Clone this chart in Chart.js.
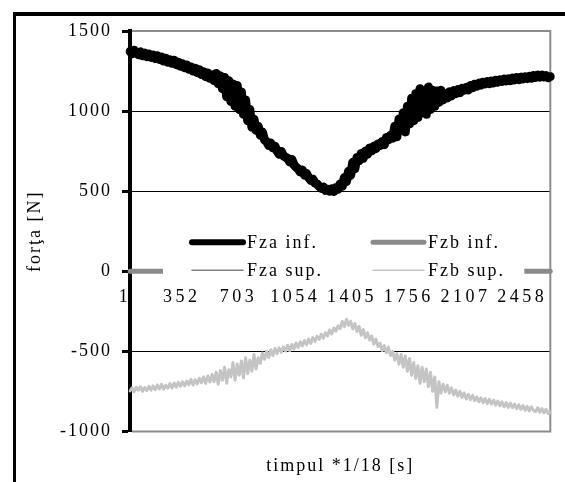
<!DOCTYPE html>
<html>
<head>
<meta charset="utf-8">
<script src="https://cdn.jsdelivr.net/npm/chart.js@4/dist/chart.umd.min.js"></script>
<style>
  html, body { margin: 0; padding: 0; background: #fff; overflow: hidden; }
  #wrap { position: relative; width: 565px; height: 482px; }
  #wrap canvas { position: absolute; left: 0; top: 0; }
  #frame {
    position: absolute; left: 13px; top: 12px; width: 600px; height: 520px;
    border-left: 3px solid #000; border-top: 4px solid #000; pointer-events: none;
  }
</style>
</head>
<body>
<div id="wrap">
  <canvas id="chart" width="565" height="482"></canvas>
  <div id="frame"></div>
</div>
<script>
// Sampling step of the time index (every 13th reading)
const STEP = 13;

// Fza inf. [N]
const fzaInf = [
  1372, 1358, 1380, 1366, 1352,  1370, 1345, 1362, 1340, 1356,
  1335, 1350, 1328, 1345, 1322,  1338, 1312, 1330, 1305, 1320,
  1298, 1318, 1290, 1305, 1280,  1296, 1270, 1288, 1262, 1275,
  1250, 1268, 1240, 1258, 1228,  1245, 1215, 1238, 1205, 1225,
  1190, 1235, 1170, 1220, 1140,  1210, 1090, 1190, 1060, 1170,
  1030, 1160, 1010, 1120, 980,   1070, 940, 1010, 900, 950,
  880, 905, 850, 870, 820,       810, 785, 800, 770, 780,
  750, 730, 748, 720, 712,       705, 682, 698, 665, 650,
  640, 620, 632, 600, 610,       585, 568, 575, 550, 545,
  530, 518, 526, 505, 512,       500, 515, 498, 522, 512,
  545, 530, 585, 560, 625,       600, 680, 640, 710, 690,
  735, 705, 750, 730, 770,       752, 780, 765, 795, 785,
  810, 790, 835, 820, 850,       830, 905, 840, 950, 880,
  990, 870, 1030, 920, 1080,     940, 1110, 960, 1140, 990,
  1120, 980, 1150, 1010, 1130,   1030, 1125, 1055, 1130, 1070,
  1110, 1082, 1120, 1095, 1128,  1108, 1135, 1115, 1142, 1130,
  1148, 1132, 1160, 1145, 1168,  1155, 1175, 1162, 1180, 1170,
  1185, 1170, 1188, 1176, 1192,  1180, 1196, 1185, 1200, 1188,
  1202, 1190, 1206, 1194, 1210,  1196, 1212, 1200, 1215, 1204,
  1218, 1205, 1222, 1210, 1225,  1212, 1226, 1214, 1222, 1208,
  1215
];

// Fzb sup. [N]
const fzbSup = [
  -748, -728, -752, -724, -742,  -722, -750, -726, -746, -718,
  -742, -716, -740, -710, -735,  -706, -736, -712, -730, -702,
  -728, -698, -724, -694, -718,  -690, -716, -686, -708, -676,
  -710, -678, -704, -668, -696,  -660, -700, -654, -692, -645,
  -690, -630, -705, -620, -680,  -600, -700, -615, -660, -570,
  -680, -580, -650, -560, -665,  -540, -640, -555, -625, -520,
  -610, -540, -575, -510, -550,  -500, -540, -490, -526, -482,
  -514, -478, -506, -472, -498,  -462, -496, -458, -486, -448,
  -476, -440, -466, -432, -458,  -424, -450, -414, -438, -406,
  -426, -394, -418, -384, -404,  -366, -392, -354, -374, -340,
  -358, -314, -346, -300, -338,  -312, -360, -326, -376, -344,
  -400, -364, -416, -384, -430,  -404, -456, -424, -470, -450,
  -496, -464, -510, -474, -526,  -500, -555, -515, -580, -520,
  -600, -530, -625, -545, -650,  -570, -670, -590, -700, -600,
  -690, -610, -720, -630, -750,  -660, -850, -690, -760, -705,
  -752, -712, -762, -728, -772,  -742, -780, -750, -788, -760,
  -798, -768, -802, -775, -808,  -785, -815, -790, -820, -795,
  -826, -800, -830, -805, -836,  -810, -840, -815, -846, -820,
  -850, -824, -852, -830, -858,  -834, -862, -838, -868, -844,
  -872, -846, -870, -876, -852,  -880, -858, -884, -862, -888,
  -880
];

// Series that stay on zero over the whole record (first and last reading)
const fzbInf = [0, 0];
const fzaSup = [0, 0];

const seriesNames = ['Fza inf.', 'Fzb inf.', 'Fza sup.', 'Fzb sup.'];
const xTickLabels = ['1', '352', '703', '1054', '1405', '1756', '2107', '2458'];
const yTickValues = [-1000, -500, 0, 500, 1000, 1500];

// Time index of each reading
const timpul = fzaInf.map((_, i) => String(1 + i * STEP));
const ends = [timpul[0], timpul[timpul.length - 1]];

const FONT = { family: "'Liberation Serif', 'Times New Roman', serif", size: 18, weight: 'normal' };
const SPACING = '2px';
const X_SPACING = '3.5px';

// Wide letter spacing for the chart text; the time labels are spaced wider
const textSpacing = {
  id: 'textSpacing',
  beforeUpdate(chart) { chart.ctx.letterSpacing = SPACING; },
  afterUpdate(chart) {
    const sx = chart.scales.x;
    if (sx && !sx.__spaced) {
      const draw = sx.drawLabels.bind(sx);
      sx.drawLabels = function (area) {
        this.ctx.letterSpacing = X_SPACING;
        draw(area);
        this.ctx.letterSpacing = SPACING;
      };
      sx.__spaced = true;
    }
  },
  beforeDraw(chart) { chart.ctx.letterSpacing = SPACING; }
};

// Grey frame around the plot area (top, right, bottom)
const plotFrame = {
  id: 'plotFrame',
  beforeDatasetsDraw(chart) {
    const { ctx, chartArea: a } = chart;
    ctx.save();
    ctx.strokeStyle = '#8c8c8c';
    ctx.lineWidth = 2;
    ctx.beginPath();
    ctx.moveTo(a.left + 2, a.top);
    ctx.lineTo(a.right, a.top);
    ctx.lineTo(a.right, a.bottom);
    ctx.lineTo(a.left + 2, a.bottom);
    ctx.stroke();
    ctx.restore();
  }
};

// Legend drawn on a white panel inside the plot, two columns by two rows
const panelLegend = {
  id: 'panelLegend',
  afterDatasetsDraw(chart) {
    const { ctx, chartArea: a, scales: { y } } = chart;
    const y0 = y.getPixelForValue(0);
    ctx.save();
    ctx.fillStyle = '#fff';
    ctx.fillRect(a.left + 33, y0 - 44, (a.right - 26) - (a.left + 33), 57);
    const cols = [a.left + 62, a.left + 243];
    const rows = [y0 - 29, y0 - 1];
    const sampleLen = 51;
    ctx.font = `${FONT.size}px ${FONT.family}`;
    ctx.textBaseline = 'middle';
    ctx.textAlign = 'left';
    chart.data.datasets.forEach((ds, i) => {
      const cx = cols[i % 2];
      const cy = rows[Math.floor(i / 2)];
      ctx.strokeStyle = ds.borderColor;
      ctx.lineWidth = ds.sampleWidth || ds.borderWidth;
      ctx.lineCap = 'round';
      ctx.beginPath();
      ctx.moveTo(cx, cy);
      ctx.lineTo(cx + sampleLen, cy);
      ctx.stroke();
      ctx.fillStyle = '#000';
      ctx.fillText(ds.label, cx + sampleLen + 4, cy + 1);
    });
    ctx.restore();
  }
};

new Chart(document.getElementById('chart'), {
  type: 'line',
  data: {
    labels: timpul,
    datasets: [
      { label: seriesNames[0], data: fzaInf, borderColor: '#000000', borderWidth: 9, sampleWidth: 6 },
      { label: seriesNames[1], data: fzbInf.map((v, i) => ({ x: ends[i], y: v })), borderColor: '#8a8a8a', borderWidth: 5 },
      { label: seriesNames[2], data: fzaSup.map((v, i) => ({ x: ends[i], y: v })), borderColor: '#808080', borderWidth: 1.5 },
      { label: seriesNames[3], data: fzbSup, borderColor: '#c4c4c4', borderWidth: 3, sampleWidth: 1.5 }
    ]
  },
  options: {
    responsive: false,
    animation: false,
    devicePixelRatio: 1,
    layout: { padding: { top: 31, right: 12, bottom: 0, left: 0 } },
    elements: {
      point: { radius: 0 },
      line: { tension: 0, borderJoinStyle: 'round', borderCapStyle: 'round', fill: false }
    },
    plugins: {
      legend: { display: false },
      tooltip: { enabled: false },
      title: {
        display: true,
        position: 'bottom',
        fullSize: false,
        text: 'timpul *1/18 [s]',
        color: '#000',
        font: FONT,
        padding: { top: 24, bottom: 5 }
      }
    },
    scales: {
      x: {
        type: 'category',
        position: { y: 0 },
        grid: { display: false, drawTicks: false },
        border: { display: false },
        ticks: {
          autoSkip: false,
          maxRotation: 0,
          minRotation: 0,
          padding: 15,
          labelOffset: -5,
          color: '#000',
          font: FONT,
          callback(value) {
            const lbl = this.getLabelForValue(value);
            return xTickLabels.includes(lbl) ? lbl : null;
          }
        }
      },
      y: {
        min: -1000,
        max: 1500,
        afterBuildTicks(scale) { scale.ticks = yTickValues.map(v => ({ value: v })); },
        afterFit(scale) { scale.width = 130; },
        grid: {
          color: c => (c.tick && (c.tick.value === 1500 || c.tick.value === -1000)) ? 'rgba(0,0,0,0)' : '#000',
          lineWidth: 1,
          drawTicks: true,
          tickLength: 8,
          tickWidth: 3,
          tickColor: '#000'
        },
        border: { display: true, color: '#000', width: 4 },
        ticks: { padding: 10, color: '#000', font: FONT, callback: v => String(v) },
        title: {
          display: true,
          text: 'forţa [N]',
          color: '#000',
          font: FONT,
          padding: { top: 24, bottom: 0 }
        }
      }
    }
  },
  plugins: [textSpacing, plotFrame, panelLegend]
});
</script>
</body>
</html>
